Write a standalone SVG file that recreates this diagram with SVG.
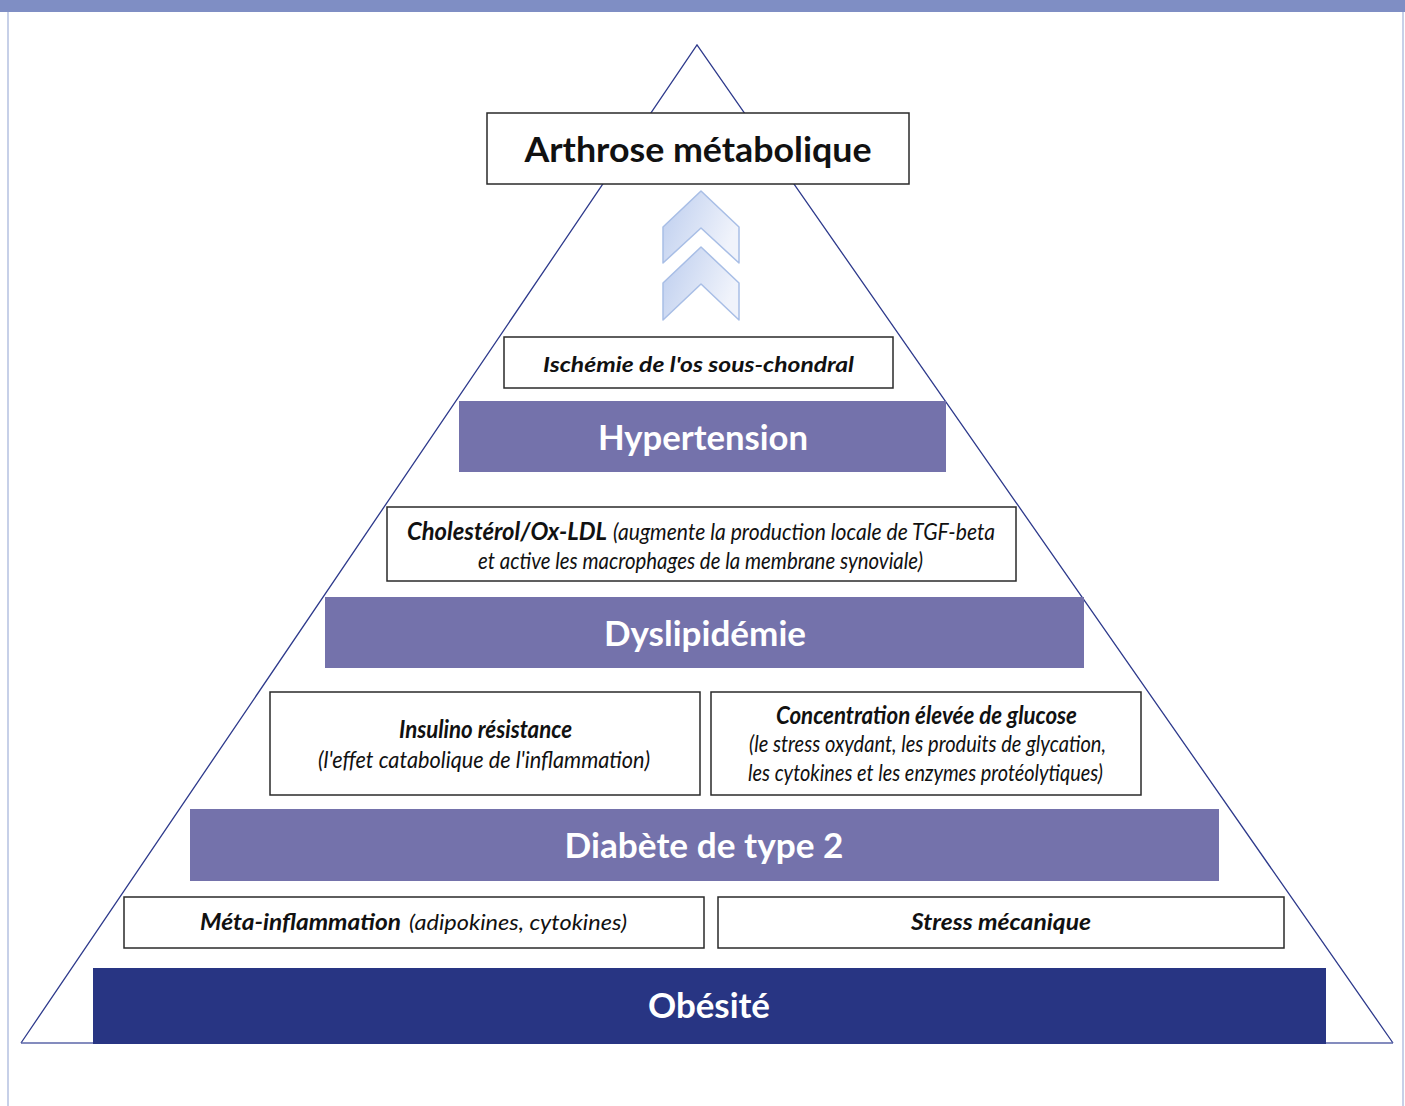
<svg xmlns="http://www.w3.org/2000/svg" width="1405" height="1106" viewBox="0 0 1405 1106">
<defs>
<style>
.bar{fill:#7472ab}
.bar-dark{fill:#283583}
.box{fill:#ffffff;stroke:#2a2a2a;stroke-width:1.5}
.bt{font-family:Lato,"Open Sans","Liberation Sans",sans-serif;font-weight:700;fill:#ffffff;font-size:34px;text-anchor:middle}
.title{font-family:Lato,"Open Sans","Liberation Sans",sans-serif;font-weight:700;fill:#111;font-size:35px;text-anchor:middle}
.bi{font-family:Lato,"Open Sans","Liberation Sans",sans-serif;font-weight:700;font-style:italic;fill:#111}
.it{font-family:Lato,"Open Sans","Liberation Sans",sans-serif;font-weight:400;font-style:italic;fill:#111}
.chev{fill:url(#cg);stroke:#a8bee6;stroke-width:1.5;stroke-linejoin:round}
</style>
<linearGradient id="cg" x1="0" y1="0" x2="1" y2="0.4">
<stop offset="0" stop-color="#bccdee"/>
<stop offset="1" stop-color="#f0f3fb"/>
</linearGradient>
</defs>
<rect x="0" y="0" width="1405" height="1106" fill="#ffffff"/>
<rect x="0" y="0" width="1405" height="12" fill="#7f8ec4"/>
<line x1="8" y1="12" x2="8" y2="1106" stroke="#b5c0e0" stroke-width="1.5"/>
<line x1="1403" y1="12" x2="1403" y2="1106" stroke="#b5c0e0" stroke-width="1.5"/>

<g id="pyramid">
<polyline points="21,1043 697,45 1393,1043" fill="none" stroke="#2e3a8c" stroke-width="1.3"/>
<line x1="21" y1="1043" x2="1393" y2="1043" stroke="#5b66a8" stroke-width="1.5"/>
</g>

<g id="connectors">
<polygon class="chev" points="701,191 739,227 739,263 701,228 663,263 663,227"/>
<polygon class="chev" points="701,247 739,283 739,320 701,284 663,320 663,283"/>
</g>

<g id="arthrose">
<rect class="box" x="487" y="113" width="422" height="71" stroke-width="1.8"/>
<text class="title" x="698" y="162" textLength="347" lengthAdjust="spacingAndGlyphs">Arthrose métabolique</text>
</g>

<g id="ischemie">
<rect class="box" x="504" y="337" width="389" height="51"/>
<text class="bi" x="543" y="372" font-size="21" textLength="311" lengthAdjust="spacingAndGlyphs">Ischémie de l'os sous-chondral</text>
</g>

<g id="hypertension">
<rect class="bar" x="459" y="401" width="487" height="71"/>
<text class="bt" x="703" y="450" textLength="210" lengthAdjust="spacingAndGlyphs">Hypertension</text>
</g>

<g id="cholesterol">
<rect class="box" x="387" y="507" width="629" height="74"/>
<text class="bi" x="407" y="540" font-size="24" textLength="200" lengthAdjust="spacingAndGlyphs">Cholestérol/Ox-LDL</text>
<text class="it" x="613" y="540" font-size="24" textLength="382" lengthAdjust="spacingAndGlyphs">(augmente la production locale de TGF-beta</text>
<text class="it" x="478" y="569" font-size="24" textLength="445" lengthAdjust="spacingAndGlyphs">et active les macrophages de la membrane synoviale)</text>
</g>

<g id="dyslipidemie">
<rect class="bar" x="325" y="597" width="759" height="71"/>
<text class="bt" x="705" y="646" textLength="202" lengthAdjust="spacingAndGlyphs">Dyslipidémie</text>
</g>

<g id="insulino">
<rect class="box" x="270" y="692" width="430" height="103"/>
<text class="bi" x="399" y="738" font-size="24" textLength="173" lengthAdjust="spacingAndGlyphs">Insulino résistance</text>
<text class="it" x="318" y="768" font-size="24" textLength="332" lengthAdjust="spacingAndGlyphs">(l'effet catabolique de l'inflammation)</text>
</g>

<g id="glucose">
<rect class="box" x="711" y="692" width="430" height="103"/>
<text class="bi" x="776" y="724" font-size="24" textLength="301" lengthAdjust="spacingAndGlyphs">Concentration élevée de glucose</text>
<text class="it" x="749" y="752" font-size="24" textLength="357" lengthAdjust="spacingAndGlyphs">(le stress oxydant, les produits de glycation,</text>
<text class="it" x="748" y="781" font-size="24" textLength="355" lengthAdjust="spacingAndGlyphs">les cytokines et les enzymes protéolytiques)</text>
</g>

<g id="diabete">
<rect class="bar" x="190" y="809" width="1029" height="72"/>
<text class="bt" x="704" y="858" textLength="279" lengthAdjust="spacingAndGlyphs">Diabète de type 2</text>
</g>

<g id="meta">
<rect class="box" x="124" y="897" width="580" height="51"/>
<text class="bi" x="200" y="930" font-size="22" textLength="201" lengthAdjust="spacingAndGlyphs">Méta-inflammation</text>
<text class="it" x="409" y="930" font-size="22" textLength="218" lengthAdjust="spacingAndGlyphs">(adipokines, cytokines)</text>
</g>

<g id="stress">
<rect class="box" x="718" y="897" width="566" height="51"/>
<text class="bi" x="911" y="930" font-size="22" textLength="180" lengthAdjust="spacingAndGlyphs">Stress mécanique</text>
</g>

<g id="obesite">
<rect class="bar-dark" x="93" y="968" width="1233" height="76"/>
<text class="bt" x="709" y="1018" textLength="122" lengthAdjust="spacingAndGlyphs">Obésité</text>
</g>
</svg>
